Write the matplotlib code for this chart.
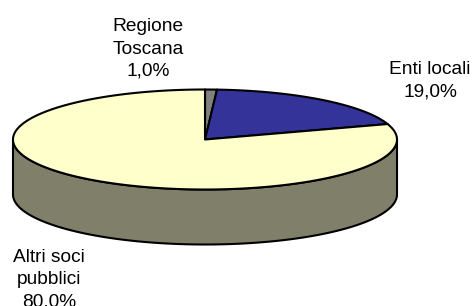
import matplotlib
matplotlib.use('Agg')
import matplotlib.pyplot as plt
import numpy as np
from matplotlib.patches import Polygon

labels = ['Regione\nToscana', 'Enti locali', 'Altri soci\npubblici']
shares = [1.0, 19.0, 80.0]
colors = ['#808080', '#333399', '#FFFFCC']
side_color = '#80806A'
label_pos = [(148, 49), (430, 81), (49, 280)]

# ellipse geometry in pixels
cx, cy, a, b, depth = 205, 139.5, 192, 50, 55

fig = plt.figure(figsize=(4.75, 3.06), dpi=100)
ax = fig.add_axes([0, 0, 1, 1])
ax.set_xlim(0, 475)
ax.set_ylim(306, 0)
ax.axis('off')


def ell(t, dy=0):
    return np.column_stack([cx + a * np.cos(t), cy - b * np.sin(t) + dy])


# front side of the cylinder
t = np.linspace(np.pi, 2 * np.pi, 200)
side = np.vstack([ell(t), ell(t[::-1], depth)])
ax.add_patch(Polygon(side, closed=True, fc=side_color, ec='black', lw=1.5, joinstyle='round'))

# top slices, clockwise from 12 o'clock
start = np.pi / 2
for share, col in zip(shares, colors):
    end = start - 2 * np.pi * share / 100
    t = np.linspace(start, end, max(int(share * 4), 10))
    pts = np.vstack([[cx, cy], ell(t)])
    ax.add_patch(Polygon(pts, closed=True, fc=col, ec='black', lw=1.5, joinstyle='round'))
    start = end

for lab, share, (x, y) in zip(labels, shares, label_pos):
    s = lab + '\n' + f'{share:.1f}%'.replace('.', ',')
    ax.text(x, y, s, ha='center', va='center', fontsize=13.8,
            family='Liberation Sans', linespacing=1.42)

fig.savefig('out.png', dpi=100)
